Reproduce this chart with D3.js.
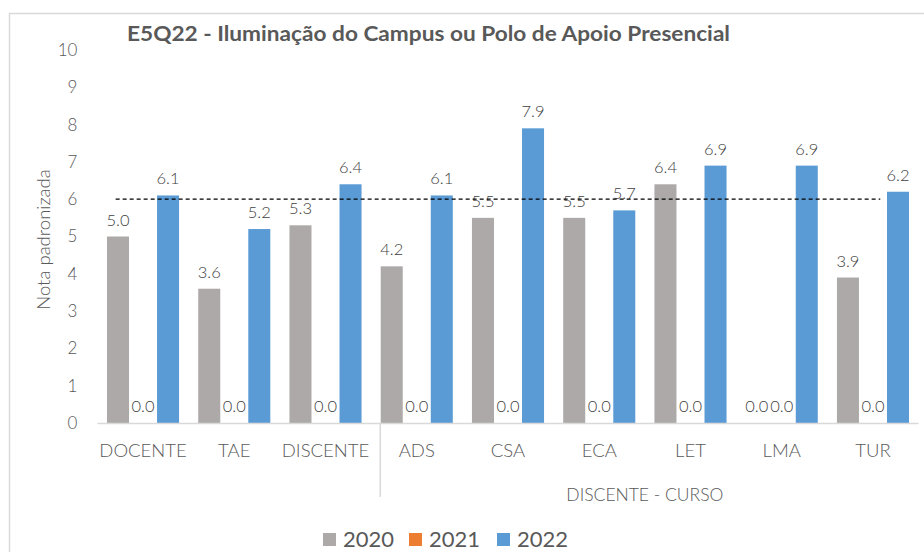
<!DOCTYPE html>
<html>
<head>
<meta charset="utf-8">
<script src="https://cdn.jsdelivr.net/npm/d3@7"></script>
<style>
  html, body { margin: 0; padding: 0; background: #fff; }
  svg { display: block; font-family: Lato, "Open Sans", sans-serif; }
  .light { font-weight: 300; }
</style>
</head>
<body>
<svg id="chart" width="924" height="552"></svg>
<script>
// Categories: three respondent groups, then the student courses
const categories = ["DOCENTE", "TAE", "DISCENTE", "ADS", "CSA", "ECA", "LET", "LMA", "TUR"];
const courseCategories = ["ADS", "CSA", "ECA", "LET", "LMA", "TUR"];
const years = ["2020", "2021", "2022"];
const values2020 = [5.0, 3.6, 5.3, 4.2, 5.5, 5.5, 6.4, 0.0, 3.9];
const values2021 = [0.0, 0.0, 0.0, 0.0, 0.0, 0.0, 0.0, 0.0, 0.0];
const values2022 = [6.1, 5.2, 6.4, 6.1, 7.9, 5.7, 6.9, 6.9, 6.2];
const yTicks = [0, 1, 2, 3, 4, 5, 6, 7, 8, 9, 10];
const referenceValue = 6;
const colors = ["#ADA9A8", "#ED7D31", "#5B9BD5"];
const textColor = "#595959";

const series = [values2020, values2021, values2022];

const svg = d3.select("#chart");

// Outer frame
svg.append("rect")
  .attr("x", 9.5).attr("y", 13.5)
  .attr("width", 930).attr("height", 560)
  .attr("fill", "none").attr("stroke", "#D9D9D9").attr("stroke-width", 1.5);

const plot = { left: 97.4, right: 918.6, top: 50, bottom: 423 };

const x = d3.scaleBand().domain(categories).range([plot.left, plot.right]).paddingInner(0.21).paddingOuter(0.105);
const xs = d3.scaleBand().domain(years).range([0, x.bandwidth()]).paddingInner(0.12);
const y = d3.scaleLinear().domain([0, 10]).range([plot.bottom, plot.top]);
const step = x.step();

// Title
svg.append("text")
  .attr("x", 127).attr("y", 40.5)
  .attr("fill", textColor)
  .attr("font-weight", "bold").attr("font-size", 20)
  .attr("textLength", 603).attr("lengthAdjust", "spacingAndGlyphs")
  .text("E5Q22 - Iluminação do Campus ou Polo de Apoio Presencial");

// Y axis labels (no line, no ticks)
const yAxis = d3.axisLeft(y).tickValues(yTicks).tickFormat(d3.format("d")).tickSize(0).tickPadding(0);
const yg = svg.append("g").attr("transform", `translate(${plot.left - 20},0)`).call(yAxis);
yg.select(".domain").remove();
yg.selectAll("text").attr("class", "light").attr("fill", textColor).attr("font-size", 17).attr("font-family", "Lato, sans-serif");

// Y axis title
svg.append("text")
  .attr("class", "light")
  .attr("transform", `translate(50,${(plot.top + plot.bottom) / 2 + 3}) rotate(-90)`)
  .attr("text-anchor", "middle")
  .attr("fill", textColor).attr("font-size", 18.5)
  .text("Nota padronizada");

// Bars
const groups = svg.append("g").selectAll("g")
  .data(categories)
  .join("g")
  .attr("transform", d => `translate(${x(d)},0)`);

groups.selectAll("rect")
  .data((c, i) => years.map((yr, k) => ({ year: yr, value: series[k][i], k })))
  .join("rect")
  .attr("x", d => xs(d.year))
  .attr("width", xs.bandwidth())
  .attr("y", d => y(d.value))
  .attr("height", d => y(0) - y(d.value))
  .attr("fill", d => colors[d.k]);

// Value labels
groups.selectAll("text")
  .data((c, i) => years.map((yr, k) => ({ year: yr, value: series[k][i], k })))
  .join("text")
  .attr("class", "light")
  .attr("x", d => xs(d.year) + xs.bandwidth() / 2)
  .attr("y", d => y(d.value) - 11)
  .attr("text-anchor", "middle")
  .attr("fill", "#404040").attr("font-size", 16.5)
  .text(d => d3.format(".1f")(d.value));

// Reference line at the target score
svg.append("line")
  .attr("x1", x(categories[0]) - step * 0.105 + step * 0.2)
  .attr("x2", x(categories[categories.length - 1]) + x.bandwidth() / 2 + step * 0.08)
  .attr("y1", y(referenceValue)).attr("y2", y(referenceValue))
  .attr("stroke", "#000").attr("stroke-width", 1.2).attr("stroke-dasharray", "4,3");

// Category axis
svg.append("line")
  .attr("x1", plot.left).attr("x2", plot.right)
  .attr("y1", plot.bottom + 0.5).attr("y2", plot.bottom + 0.5)
  .attr("stroke", "#D9D9D9").attr("stroke-width", 1.5);

svg.append("g").selectAll("text")
  .data(categories)
  .join("text")
  .attr("class", "light")
  .attr("x", d => x(d) + x.bandwidth() / 2)
  .attr("y", 457)
  .attr("text-anchor", "middle")
  .attr("fill", textColor).attr("font-size", 18.5)
  .text(d => d);

// Separator before the course group and its label
const firstCourse = courseCategories[0];
const lastCourse = courseCategories[courseCategories.length - 1];
const sepX = x(firstCourse) - step * 0.105 + step * 0.1;
svg.append("line")
  .attr("x1", sepX).attr("x2", sepX)
  .attr("y1", plot.bottom).attr("y2", 497)
  .attr("stroke", "#D9D9D9").attr("stroke-width", 1.5);

svg.append("text")
  .attr("class", "light")
  .attr("x", (x(firstCourse) + x(lastCourse) + x.bandwidth()) / 2)
  .attr("y", 501)
  .attr("text-anchor", "middle")
  .attr("fill", textColor).attr("font-size", 17.5)
  .text("DISCENTE - CURSO");

// Legend
const legendX = [323, 409, 497];
const legend = svg.append("g").selectAll("g")
  .data(years)
  .join("g")
  .attr("transform", (d, i) => `translate(${legendX[i]},533)`);
legend.append("rect").attr("width", 13).attr("height", 13).attr("fill", (d, i) => colors[i]);
legend.append("text")
  .attr("x", 20).attr("y", 13.5)
  .attr("fill", textColor).attr("font-size", 22)
  .text(d => d);
</script>
</body>
</html>
